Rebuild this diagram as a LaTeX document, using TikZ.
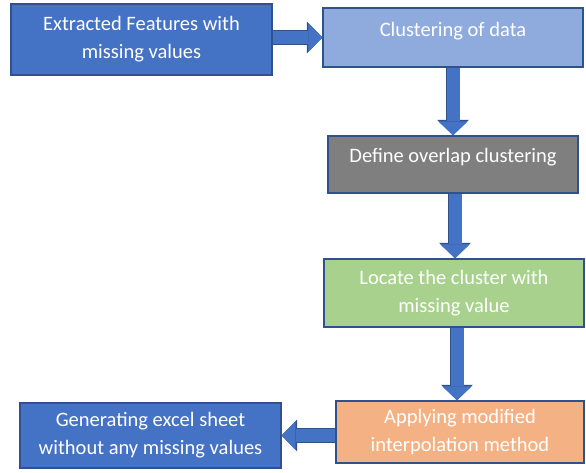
\documentclass[tikz,border=0pt]{standalone}
\usepackage{fontspec}
\setmainfont{Carlito}
\usetikzlibrary{arrows.meta}
\definecolor{boxblue}{HTML}{4472C4}
\definecolor{boxedge}{HTML}{2F528F}
\definecolor{lightblue}{HTML}{8FAADC}
\definecolor{boxgray}{HTML}{7F7F7F}
\definecolor{boxgreen}{HTML}{A9D18E}
\definecolor{boxorange}{HTML}{F4B183}
\begin{document}
\begin{tikzpicture}[x=1pt,y=1pt,
  stage/.style={draw=boxedge, line width=1.3pt, text=white, align=center, inner sep=0pt,
    font=\fontsize{20.5}{28}\selectfont},
  flow/.style={boxblue, line width=13pt,
    -{Triangle[width=29pt,length=14pt,line width=0.4pt]},
    preaction={draw=boxedge, line width=14.6pt, -{Triangle[width=31.5pt,length=15.5pt,line width=0.4pt]}}}]
\useasboundingbox (0,0) rectangle (586,472);

\node[stage, fill=boxblue, minimum width=261pt, minimum height=71pt] (feat) at (141.5,432.5) {Extracted Features with\\missing values};
\node[stage, fill=lightblue, minimum width=260pt, minimum height=59pt, text depth=16pt] (clus) at (453,434.5) {Clustering of data};
\node[stage, fill=boxgray, minimum width=250pt, minimum height=57pt, text depth=18pt] (over) at (453,307.5) {Define overlap clustering};
\node[stage, fill=boxgreen, minimum width=260pt, minimum height=68pt] (loc) at (454,179) {Locate the cluster with\\missing value};
\node[stage, fill=boxorange, minimum width=248pt, minimum height=62pt] (interp) at (460,40) {Applying modified\\interpolation method};
\node[stage, fill=boxblue, minimum width=261pt, minimum height=65pt] (sheet) at (150.5,36.5) {Generating excel sheet\\without any missing values};

\draw[flow] (feat.east |- clus.west) -- (clus.west);
\draw[flow] (clus.south) -- (over.north);
\draw[flow] ([xshift=2pt]over.south) -- ([xshift=2pt]over.south |- loc.north);
\draw[flow] ([xshift=3pt]loc.south) -- ([xshift=3pt]loc.south |- interp.north);
\draw[flow] (interp.west |- sheet.east) -- (sheet.east);
\end{tikzpicture}
\end{document}
